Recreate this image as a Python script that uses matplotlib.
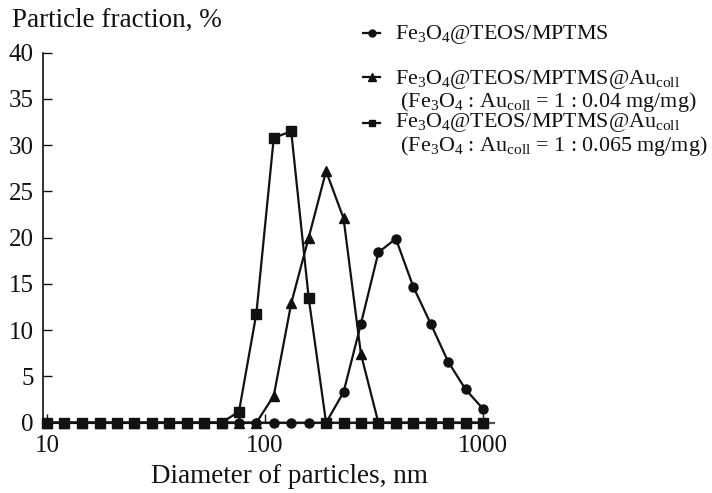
import numpy as np
import matplotlib.pyplot as plt
from matplotlib.lines import Line2D

plt.rcParams['font.family'] = 'Liberation Serif'
plt.rcParams['mathtext.fontset'] = 'custom'
plt.rcParams['mathtext.rm'] = 'Liberation Serif'
plt.rcParams['mathtext.it'] = 'Liberation Serif:italic'

# size bins, nm
diameter = [10.0, 12.0, 14.5, 17.4, 20.9, 25.1, 30.2, 36.3, 43.7, 52.5,
            63.1, 75.9, 91.2, 109.6, 131.8, 158.5, 190.5, 229.1, 275.4, 331.1,
            398.1, 478.6, 575.4, 691.8, 831.8, 1000.0]

# particle fraction, %
frac_mptms = [0, 0, 0, 0, 0, 0, 0, 0, 0, 0,
              0, 0, 0, 0, 0, 0, 0, 3.3, 10.7, 18.4,
              19.9, 14.7, 10.7, 6.6, 3.6, 1.5]
frac_au004 = [0, 0, 0, 0, 0, 0, 0, 0, 0, 0,
              0, 0, 0, 2.9, 12.9, 20.0, 27.2, 22.1, 7.4, 0,
              0, 0, 0, 0, 0, 0]
frac_au0065 = [0, 0, 0, 0, 0, 0, 0, 0, 0, 0,
               0, 1.2, 11.8, 30.8, 31.5, 13.5, 0, 0, 0, 0,
               0, 0, 0, 0, 0, 0]

yticks = [0, 5, 10, 15, 20, 25, 30, 35, 40]
xticks = [10, 100, 1000]

c = '#111111'
fig = plt.figure(figsize=(7.12, 4.93), dpi=100)
ax = fig.add_axes([0.0608, 0.1426, 0.6330, 0.7505])

ax.plot(diameter, frac_mptms, '-o', color=c, lw=1.6, ms=6.5, clip_on=False, zorder=3)
ax.plot(diameter, frac_au004, '-^', color=c, lw=1.6, ms=7.5, clip_on=False, zorder=4)
ax.plot(diameter, frac_au0065, '-s', color=c, lw=1.6, ms=6.5, clip_on=False, zorder=5)

ax.set_xscale('log')
ax.set_xlim(9.6, 1123)
ax.set_ylim(0, 40)
ax.set_xticks(xticks)
ax.set_xticklabels([str(t) for t in xticks])
ax.xaxis.set_minor_locator(plt.NullLocator())
ax.set_yticks(yticks)
ax.tick_params(direction='in', length=6.5, width=1, labelsize=18, colors=c, pad=7)
ax.tick_params(axis='x', pad=9)
for s in ['top', 'right']:
    ax.spines[s].set_visible(False)
ax.spines['left'].set_linewidth(1.2)
ax.spines['left'].set_color(c)
ax.spines['bottom'].set_linewidth(1.6)
ax.spines['bottom'].set_color('#555555')

fig.text(11.7 / 712, 1 - 26.7 / 493, 'Particle fraction, %', fontsize=19.5, color=c, va='baseline')
fig.text(289 / 712, 1 - 483 / 493, 'Diameter of particles, nm', fontsize=19.5, color=c,
         ha='center', va='baseline')

# legend
lab1 = r'Fe$_3$O$_4$@TEOS/MPTMS'
lab2 = (r'Fe$_3$O$_4$@TEOS/MPTMS@Au$_{\mathrm{coll}}$' + '\n' +
        r' (Fe$_3$O$_4$ : Au$_{\mathrm{coll}}$ = 1 : 0.04 mg/mg)')
lab3 = (r'Fe$_3$O$_4$@TEOS/MPTMS@Au$_{\mathrm{coll}}$' + '\n' +
        r' (Fe$_3$O$_4$ : Au$_{\mathrm{coll}}$ = 1 : 0.065 mg/mg)')

W, H = 712.0, 493.0
keys = [('o', 5, 33), ('^', 6, 77), ('s', 5, 123)]
for m, ms, yk in keys:
    fig.add_artist(Line2D([363 / W, 371.5 / W, 380 / W], [1 - yk / H] * 3, color=c, lw=1.6,
                          marker=m, ms=ms, markevery=[1], transform=fig.transFigure))

fs = 15.8
fig.text(395 / W, 1 - 39.3 / H, lab1, fontsize=fs, color=c, va='baseline')
fig.text(395 / W, 1 - 107 / H, lab2, fontsize=fs, color=c, va='baseline', linespacing=0.95)
fig.text(395 / W, 1 - 150.5 / H, lab3, fontsize=fs, color=c, va='baseline', linespacing=0.95)

fig.savefig('out.png', dpi=100)
